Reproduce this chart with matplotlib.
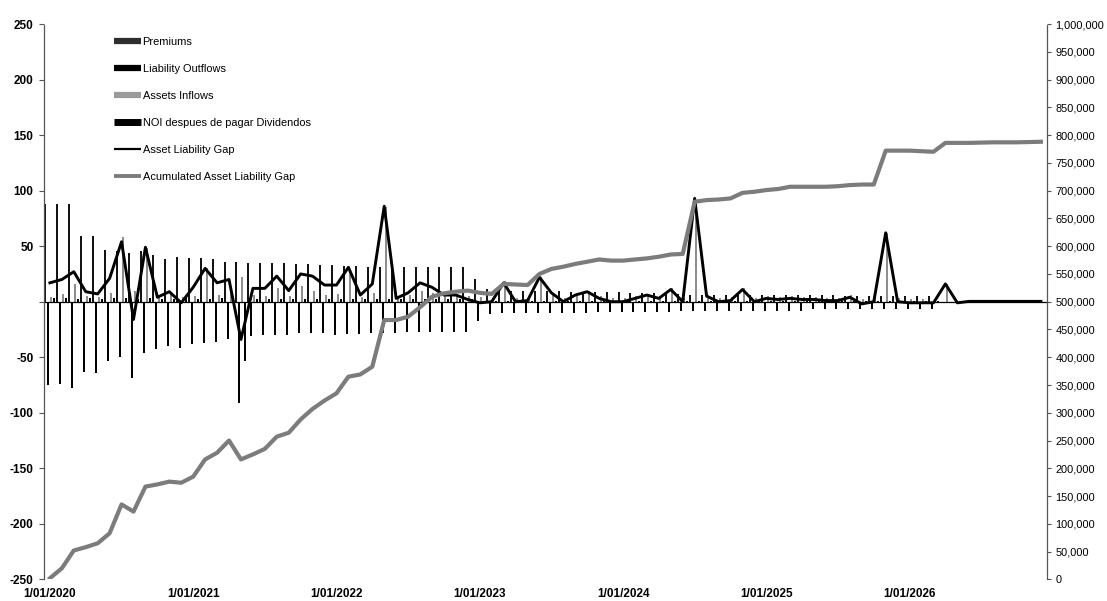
import numpy as np
import matplotlib
matplotlib.use("Agg")
import matplotlib.pyplot as plt
from matplotlib.lines import Line2D
from matplotlib.ticker import FuncFormatter, FixedLocator

plt.rcParams['font.family'] = ['Liberation Sans', 'DejaVu Sans']

# Monthly cash-flow profile, Jan 2020 - Dec 2026 (84 months)
year_labels = ["1/01/2020", "1/01/2021", "1/01/2022", "1/01/2023",
               "1/01/2024", "1/01/2025", "1/01/2026"]

premiums = [
    88, 88, 88, 59, 59, 47, 46, 44, 46, 42,
    38, 40, 39, 39, 38, 36, 36, 35, 35, 35,
    35, 34, 34, 33, 33, 32, 32, 31, 31, 31,
    31, 31, 31, 31, 31, 31, 20, 11, 11, 10,
    10, 10, 10, 10, 9, 9, 9, 9, 9, 8,
    8, 8, 8, 7, 6, 6, 6, 6, 6, 6,
    6, 6, 6, 6, 6, 6, 6, 5, 5, 5,
    5, 5, 5, 5, 5, 0, 0, 0, 0, 0,
    0, 0, 0, 0]

liability_outflows = [
    -75, -74, -78, -63, -64, -53, -50, -69, -46, -43,
    -40, -42, -38, -37, -36, -34, -91, -31, -30, -30,
    -30, -28, -28, -28, -30, -29, -29, -28, -28, -28,
    -27, -27, -27, -27, -27, -27, -17, -11, -10, -10,
    -10, -10, -10, -10, -10, -10, -9, -9, -9, -9,
    -9, -9, -9, -8, -8, -8, -8, -8, -8, -8,
    -8, -8, -8, -8, -7, -7, -7, -7, -7, -7,
    -7, -7, -7, -7, -7, 0, 0, 0, 0, 0,
    0, 0, 0, 0]

assets_inflows = [
    4, 7, 16, 5, 4, 8, 58, 10, 48, 6,
    8, 4, 5, 30, 6, 8, 22, 6, 5, 12,
    5, 14, 10, 6, 7, 28, 4, 8, 85, 4,
    6, 10, 8, 6, 5, 5, 4, 3, 19, 3,
    3, 22, 8, 3, 7, 10, 5, 3, 3, 5,
    7, 5, 12, 3, 92, 6, 3, 4, 12, 3,
    5, 4, 5, 4, 4, 3, 3, 6, 2, 3,
    62, 3, 2, 2, 2, 16, 0, 0, 0, 0,
    0, 0, 0, 0]

noi_after_dividends = [
    3, 3, 2, 3, 2, 3, 3, 2, 3, 2,
    2, 3, 2, 2, 3, 2, -53, 2, 2, 2,
    2, 2, 2, 2, 2, 2, 2, 2, 2, 2,
    2, 2, 2, 2, 2, 2, 1, 1, 1, 1,
    1, 1, 1, 1, 1, 1, 1, 1, 1, 1,
    1, 1, 1, 1, 1, 1, 1, 1, 1, 1,
    1, 1, 1, 1, 1, 1, 1, 1, 1, 1,
    1, 1, 1, 1, 1, 0, 0, 0, 0, 0,
    0, 0, 0, 0]

asset_liability_gap = [
    17, 20, 27, 9, 7, 21, 54, -16, 49, 4,
    9, -1, 13, 30, 17, 20, -34, 12, 12, 23,
    10, 25, 23, 15, 15, 31, 6, 16, 86, 3,
    8, 17, 13, 6, 6, 2, -1, 0, 17, 0,
    1, 22, 8, 0, 6, 9, 3, 0, 0, 3,
    6, 3, 11, 0, 93, 5, 0, 1, 11, 0,
    3, 2, 3, 2, 2, 1, 1, 4, -2, 0,
    62, 0, -1, -1, -1, 16, -1, 0.3, 0.3, 0.3,
    0.3, 0.3, 0.3, 0.3]

accumulated_gap = [
    2000, 20000, 52000, 58000, 65000, 83000, 135000, 122000, 167000, 171000,
    176000, 174000, 185000, 216000, 228000, 250000, 216000, 225000, 235000, 257000,
    264000, 288000, 307000, 322000, 335000, 365000, 369000, 383000, 467000, 467000,
    473000, 490000, 509000, 515000, 518000, 520000, 516000, 514000, 532000, 531000,
    530000, 550000, 559000, 563000, 568000, 572000, 576000, 574000, 574000, 576000,
    578000, 581000, 585000, 586000, 680000, 683000, 684000, 686000, 696000, 698000,
    701000, 703000, 707000, 707000, 707000, 707000, 708000, 710000, 711000, 711000,
    772000, 772000, 772000, 771000, 770000, 786000, 786000, 786000, 786500, 787000,
    787000, 787000, 787500, 788000]

legend_labels = ["Premiums", "Liability Outflows", "Assets Inflows",
                 "NOI despues de pagar Dividendos", "Asset Liability Gap",
                 "Acumulated Asset Liability Gap"]

x = np.arange(len(premiums))

fig = plt.figure(figsize=(11.07, 6.01), dpi=100)
ax = fig.add_axes([0.0397, 0.036, 0.906, 0.924])
ax2 = ax.twinx()

# clustered thin columns, four per month (each column two pixels wide)
px_per_month = 0.906 * 1107 / 84
w = 2.0 / px_per_month
ax.bar(x - 0.375, premiums, w, color='#141414', linewidth=0)
ax.bar(x - 0.125, liability_outflows, w, color='#000000', linewidth=0)
ax.bar(x + 0.125, assets_inflows, w, color='#8e8e8e', linewidth=0)
ax.bar(x + 0.375, noi_after_dividends, w, color='#000000', linewidth=0)
ax.axhline(0, color='black', lw=0.9, zorder=1)

ax.plot(x, asset_liability_gap, color='black', lw=2.1, zorder=3)
ax2.plot(x, accumulated_gap, color='#7c7c7c', lw=3.0, solid_joinstyle='round')

ax.set_xlim(-0.5, 83.5)
ax.set_ylim(-250, 250)
ax2.set_ylim(0, 1_000_000)

ax.yaxis.set_major_locator(FixedLocator(np.arange(-250, 251, 50)))
ax.yaxis.set_major_formatter(FuncFormatter(lambda v, p: '' if v == 0 else f'{v:.0f}'))
ax2.yaxis.set_major_locator(FixedLocator(np.arange(0, 1_000_001, 50_000)))
ax2.yaxis.set_major_formatter(FuncFormatter(lambda v, p: f'{v:,.0f}'))

ax.set_xticks(np.arange(0, 84, 12))
ax.set_xticklabels(year_labels, fontsize=8.5, fontweight='bold')
ax.tick_params(axis='x', length=0, pad=6)
ax.tick_params(axis='y', length=3.5, width=0.8, pad=4, labelsize=8.5, color='#555555')
for t in ax.get_yticklabels():
    t.set_fontweight('bold')
ax2.tick_params(axis='y', length=3.0, width=0.8, pad=3, labelsize=7.9, color='#555555')

for a in (ax, ax2):
    a.spines['top'].set_visible(False)
    a.spines['bottom'].set_visible(False)
    a.patch.set_visible(False)
ax2.spines['left'].set_visible(False)
ax.spines['right'].set_visible(False)
for sp in (ax.spines['left'], ax2.spines['right']):
    sp.set_color('#555555')
    sp.set_linewidth(0.9)
    sp.set_linestyle((0, (2, 1)))

handles = [
    Line2D([], [], color='#2e2e2e', lw=4.5, solid_capstyle='butt'),
    Line2D([], [], color='#000000', lw=4.5, solid_capstyle='butt'),
    Line2D([], [], color='#9a9a9a', lw=4.5, solid_capstyle='butt'),
    Line2D([], [], color='#000000', lw=5.0, solid_capstyle='butt'),
    Line2D([], [], color='#000000', lw=1.6, solid_capstyle='butt'),
    Line2D([], [], color='#7c7c7c', lw=2.8, solid_capstyle='butt'),
]
ax2.legend(handles, legend_labels, loc='upper left',
           bbox_to_anchor=(114 / 1107, 1 - 37 / 601), bbox_transform=fig.transFigure,
           frameon=False, fontsize=7.9, handlelength=2.5, handletextpad=0.1,
           labelspacing=1.55, borderpad=0, borderaxespad=0)

fig.savefig("out.png", dpi=100)
